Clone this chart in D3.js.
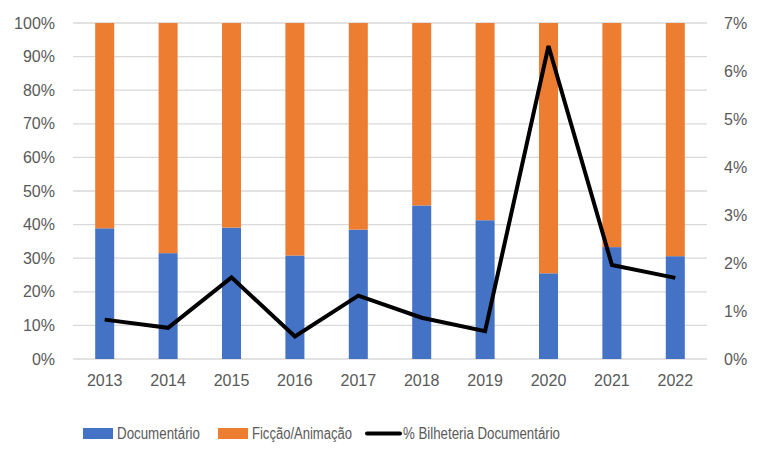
<!DOCTYPE html>
<html><head><meta charset="utf-8">
<script src="https://cdn.jsdelivr.net/npm/d3@7"></script>
<style>body{margin:0;background:#fff}svg{display:block}</style>
</head><body><svg id="c" width="761" height="455"></svg>
<script>
const years = ["2013","2014","2015","2016","2017","2018","2019","2020","2021","2022"];
const documentario = [38.9,31.5,39.1,30.8,38.5,45.7,41.3,25.5,33.3,30.6];
const ficcao = documentario.map(d => 100 - d);
const bilheteria = [0.82,0.65,1.70,0.47,1.32,0.86,0.58,6.52,1.96,1.69];
const leftTicks = [0,10,20,30,40,50,60,70,80,90,100];
const rightTicks = [0,1,2,3,4,5,6,7];
const seriesNames = ["Documentário","Ficção/Animação","% Bilheteria Documentário"];

const svg = d3.select("#c");
const font = "'Liberation Sans', Arial, sans-serif";
const txt = "#595959";
const L = 73, R = 707, T = 23, B = 359;
const x = d3.scaleBand().domain(years).range([L, R]).paddingInner(0.7).paddingOuter(0.35);
const yL = d3.scaleLinear().domain([0,100]).range([B, T]);
const yR = d3.scaleLinear().domain([0,7]).range([B, T]);

// grid
svg.append("g").selectAll("line").data(leftTicks).join("line")
  .attr("x1", L).attr("x2", R).attr("y1", d => yL(d)).attr("y2", d => yL(d))
  .attr("stroke", "#D9D9D9").attr("stroke-width", 1.3);

// bars
const data = years.map((y,i) => ({year:y, doc:documentario[i], fic:ficcao[i]}));
const stack = d3.stack().keys(["doc","fic"])(data);
const colors = {doc:"#4472C4", fic:"#ED7D31"};
svg.append("g").selectAll("g").data(stack).join("g").attr("fill", s => colors[s.key])
  .selectAll("rect").data(s => s).join("rect")
  .attr("x", d => x(d.data.year)).attr("width", x.bandwidth())
  .attr("y", d => yL(d[1])).attr("height", d => yL(d[0]) - yL(d[1]));

// line
const line = d3.line().x((d,i) => x(years[i]) + x.bandwidth()/2).y(d => yR(d));
svg.append("path").datum(bilheteria).attr("d", line).attr("fill","none")
  .attr("stroke","#000").attr("stroke-width",4).attr("stroke-linejoin","miter");

// axes
const axL = d3.axisLeft(yL).tickValues(leftTicks).tickFormat(d => d + "%").tickSize(0).tickPadding(18);
const gL = svg.append("g").attr("transform", `translate(${L},0)`).call(axL);
const axR = d3.axisRight(yR).tickValues(rightTicks).tickFormat(d => d + "%").tickSize(0).tickPadding(17);
const gR = svg.append("g").attr("transform", `translate(${R},0)`).call(axR);
const axB = d3.axisBottom(x).tickSize(0).tickPadding(16);
const gB = svg.append("g").attr("transform", `translate(0,${B})`).call(axB);
[gL,gR,gB].forEach(g => {
  g.select(".domain").remove();
  g.selectAll("text").attr("fill", txt).style("font-family", font).style("font-size","16px");
});

// legend
const lg = svg.append("g").style("font-family", font).style("font-size","16px");
const items = [
  {name:seriesNames[0], x:83, type:"rect", c:"#4472C4", w:83},
  {name:seriesNames[1], x:218, type:"rect", c:"#ED7D31", w:100},
  {name:seriesNames[2], x:367, type:"line", c:"#000", w:157}
];
items.forEach(it => {
  if (it.type === "rect") lg.append("rect").attr("x", it.x).attr("y", 428).attr("width", 30).attr("height", 11).attr("fill", it.c);
  else lg.append("line").attr("x1", it.x).attr("x2", it.x+33).attr("y1", 433.5).attr("y2", 433.5).attr("stroke", it.c).attr("stroke-width", 4).attr("stroke-linecap","round");
  lg.append("text").attr("x", it.x + (it.type==="rect"?34:36)).attr("y", 433.5).attr("dy","0.35em")
    .attr("textLength", it.w).attr("lengthAdjust","spacingAndGlyphs").attr("fill", txt).text(it.name);
});
</script></body></html>
